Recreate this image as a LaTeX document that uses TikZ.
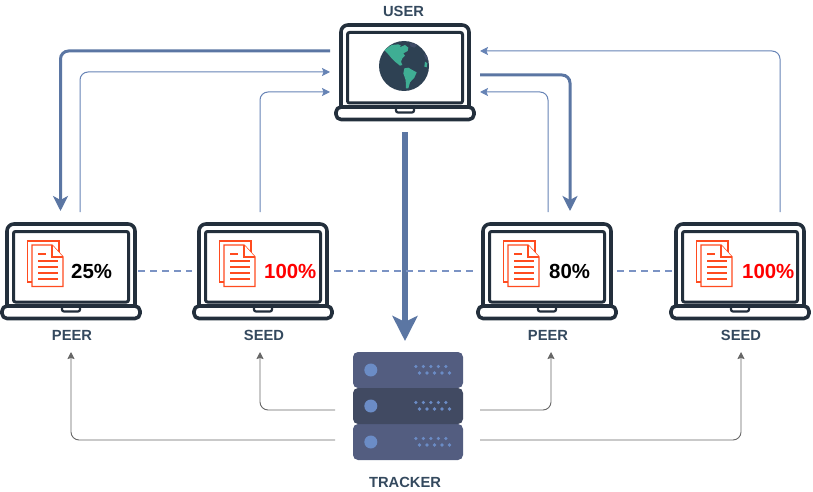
\documentclass[tikz,border=0pt]{standalone}
\usepackage{fontspec}
\setmainfont{Liberation Sans}
\usetikzlibrary{arrows.meta}
\definecolor{frame}{HTML}{232F3C}
\definecolor{flow}{HTML}{5B76A3}
\definecolor{thinflow}{HTML}{6683B5}
\definecolor{dashc}{HTML}{7B93C4}
\definecolor{greyline}{HTML}{666666}
\definecolor{labelc}{HTML}{34495E}
\definecolor{docc}{HTML}{FF4B1F}
\definecolor{srvlight}{HTML}{535D80}
\definecolor{srvdark}{HTML}{414A62}
\definecolor{srvdot}{HTML}{6B8CC6}
\definecolor{globec}{HTML}{2E4153}
\definecolor{land}{HTML}{3FAE94}
\definecolor{landdim}{HTML}{3E4B66}
\tikzset{
  x=1pt,y=-1pt,
  thickflow/.style={draw=flow,line width=3pt,rounded corners=8pt,-{Stealth[length=15pt,width=15pt,inset=4pt]}},
  thinarrow/.style={draw=thinflow,line width=1pt,rounded corners=8pt,-{Stealth[length=8pt,width=8pt,inset=1.5pt]}},
  greyarrow/.style={draw=greyline,line width=.9pt,rounded corners=8pt,-{Stealth[length=7pt,width=7pt,inset=1pt]}},
  peerlink/.style={draw=dashc,line width=1.6pt,dash pattern=on 7pt off 5pt},
  caption/.style={font=\fontsize{14.7}{16}\selectfont\bfseries,text=labelc,inner sep=0pt},
  pct/.style={font=\fontsize{20.4}{22}\selectfont\bfseries,inner sep=0pt,anchor=west},
  srv/.style={rounded corners=5pt,draw=none},
  lapline/.style={draw=frame,line join=round},
  pagedraw/.style={draw=docc,line width=1.4pt,fill=white,line join=miter},
  docline/.style={fill=docc,draw=none}
}
\newcommand{\laptop}[2]{% cx, top y
  \begin{scope}[shift={(#1,#2)}]
    \draw[lapline,line width=3.6pt,rounded corners=7pt] (-64,82) -- (-64,0) -- (64,0) -- (64,82);
    \draw[lapline,line width=3pt,rounded corners=2pt] (-57.5,7.5) rectangle (57.5,78);
    \draw[lapline,line width=3.6pt,fill=white,rounded corners=5pt] (-69,82) -- (69,82) -- (69,94.5) -- (-69,94.5) -- cycle;
    \draw[lapline,line width=2.2pt,rounded corners=2pt] (-9,82) -- (-9,87.5) -- (9,87.5) -- (9,82);
  \end{scope}}
\newcommand{\docicon}[2]{% cx, top y
  \begin{scope}[shift={(#1,#2)}]
    \draw[pagedraw] (-43.7,17) rectangle (-12,58);
    \draw[pagedraw] (-39,21) -- (-19,21) -- (-8,33) -- (-8,62.5) -- (-39,62.5) -- cycle;
    \draw[pagedraw] (-19,21) -- (-19,33) -- (-8,33);
    \path[docline] (-33.3,29.2) rectangle (-25,30.8);
    \path[docline] (-33.3,35.5) rectangle (-13.3,37.5);
    \path[docline] (-33.3,42) rectangle (-13.3,44);
    \path[docline] (-33.3,48) rectangle (-13.3,50);
    \path[docline] (-33.3,54) rectangle (-13.3,56);
  \end{scope}}
\newcommand{\srvunit}[2]{% top y, fill
  \fill[srv,fill=#2] (353,#1) rectangle ++(110,36);
  \fill[srvdot] (370.8,#1+18) circle (6.5);
  \foreach \k in {0,...,4}{
    \fill[srvdot] (415.8+\k*7.5,#1+14.5) circle (1.8);
    \fill[srvdot] (419.5+\k*7.5,#1+21) circle (1.8);
  }}
\begin{document}
\begin{tikzpicture}
\useasboundingbox (0,0) rectangle (813,492);
% laptops
\laptop{405}{25}
\laptop{71}{224}
\laptop{263}{224}
\laptop{547}{224}
\laptop{740}{224}
% globe
\fill[globec] (404,66) circle (25);
\begin{scope}
  \clip (404,66) circle (25);
  \begin{scope}[shift={(375,35)},scale=1/3]
    \fill[landdim] (105,24) -- (128,28) -- (118,38) -- (106,34) -- cycle;
    \fill[landdim] (146,58) -- (168,62) -- (166,78) -- (152,72) -- cycle;
    \fill[land] (28,45) -- (50,30) -- (70,28) -- (78,32) -- (72,38) -- (90,30) -- (100,38) -- (98,48) -- (85,55) -- (90,62) -- (82,70) -- (78,80) -- (82,90) -- (75,92) -- (60,80) -- (50,70) -- (40,58) -- cycle;
    \fill[land] (88,100) -- (100,98) -- (112,105) -- (125,112) -- (118,128) -- (105,142) -- (100,160) -- (93,160) -- (92,135) -- (85,115) -- cycle;
    \fill[land] (150,80) -- (157,85) -- (155,97) -- (148,95) -- cycle;
  \end{scope}
\end{scope}
% documents
\docicon{71}{224}
\docicon{263}{224}
\docicon{547}{224}
\docicon{740}{224}
% percentages
\node[pct,text=black] (p1) at (71,271.5) {25\%};
\node[pct,text=red] (s1) at (264,271.5) {100\%};
\node[pct,text=black] (p2) at (549,271.5) {80\%};
\node[pct,text=red] (s2) at (742,271.5) {100\%};
% captions
\node[caption] (userlabel) at (403.5,11.5) {USER};
\node[caption] (peerA) at (72,335) {PEER};
\node[caption] (seedA) at (264,335) {SEED};
\node[caption] (peerB) at (548,335) {PEER};
\node[caption] (seedB) at (741,335) {SEED};
\node[caption] (trackerlabel) at (405,482.5) {TRACKER};
% tracker
\srvunit{352}{srvlight}
\srvunit{424}{srvlight}
\srvunit{388}{srvdark}
% anchor coordinates
\coordinate (uL1) at (330,51);
\coordinate (uL2) at (330,72);
\coordinate (uL3) at (330,92);
\coordinate (uR1) at (480,51);
\coordinate (uR2) at (480,75);
\coordinate (uR3) at (480,92);
\coordinate (uB) at (405,132);
\coordinate (tT) at (405,341);
\coordinate (p1a) at (60.5,211);
\coordinate (p1b) at (80,212);
\coordinate (s1a) at (260,212);
\coordinate (p2a) at (548,212);
\coordinate (p2b) at (570,211);
\coordinate (s2a) at (780,212);
\coordinate (lp1) at (71,352);
\coordinate (ls1) at (260,352);
\coordinate (lp2) at (551,352);
\coordinate (ls2) at (741,352);
\coordinate (tL1) at (335,410);
\coordinate (tL2) at (335,440);
\coordinate (tR1) at (480,410);
\coordinate (tR2) at (480,440);
\coordinate (dA1) at (138,271);
\coordinate (dA2) at (192,271);
\coordinate (dB1) at (334,271);
\coordinate (dB2) at (475,271);
\coordinate (dC1) at (617,271);
\coordinate (dC2) at (672,271);
% flows
\draw[thickflow] (uL1) -| (p1a);
\draw[thickflow] (uR2) -| (p2b);
\draw[thinarrow] (p1b) |- (uL2);
\draw[thinarrow] (s1a) |- (uL3);
\draw[thinarrow] (p2a) |- (uR3);
\draw[thinarrow] (s2a) |- (uR1);
\draw[draw=flow,line width=6pt,-{Stealth[length=25pt,width=25pt,inset=6pt]}] (uB) -- (tT);
\draw[greyarrow] (tL1) -| (ls1);
\draw[greyarrow] (tL2) -| (lp1);
\draw[greyarrow] (tR1) -| (lp2);
\draw[greyarrow] (tR2) -| (ls2);
\draw[peerlink] (dA1) -- (dA2);
\draw[peerlink] (dB1) -- (dB2);
\draw[peerlink] (dC1) -- (dC2);
\end{tikzpicture}
\end{document}
